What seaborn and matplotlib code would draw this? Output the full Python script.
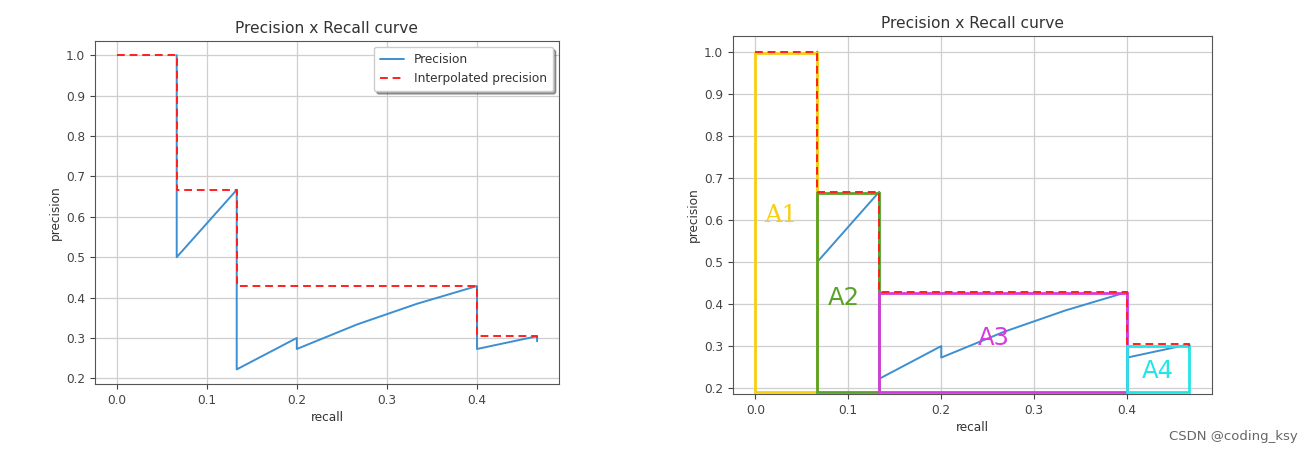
import numpy as np
import pandas as pd
import matplotlib
matplotlib.use("Agg")
import matplotlib.pyplot as plt
import matplotlib.patches as mpatches
import seaborn as sns

# precision / recall points in detection order
recall = [0.0667, 0.0667, 0.1333, 0.1333, 0.1333, 0.1333, 0.1333, 0.1333, 0.1333,
          0.2, 0.2, 0.2667, 0.3333, 0.4, 0.4, 0.4, 0.4, 0.4, 0.4, 0.4, 0.4, 0.4,
          0.4667, 0.4667]
precision = [1.0, 0.5, 0.6667, 0.5, 0.4, 0.3333, 0.2857, 0.25, 0.2222,
             0.3, 0.2727, 0.3333, 0.3846, 0.4286, 0.4, 0.375, 0.3529, 0.3333, 0.3158,
             0.3, 0.2857, 0.2727, 0.3043, 0.2917]

# interpolated (every point) precision
interp_recall = [0.0, 0.0667, 0.0667, 0.1333, 0.1333, 0.4, 0.4, 0.4667, 0.4667]
interp_precision = [1.0, 1.0, 0.6667, 0.6667, 0.4286, 0.4286, 0.3043, 0.3043, 0.2917]

# areas under interpolated curve
area_names = ["A1", "A2", "A3", "A4"]
area_start = [0.0, 0.0667, 0.1333, 0.4]
area_end = [0.0667, 0.1333, 0.4, 0.4667]
area_height = [1.0, 0.6667, 0.4286, 0.3043]
area_colors = ["#f7cf10", "#58a22a", "#d63ae0", "#22e6e6"]
label_pos = [(0.027, 0.61), (0.095, 0.414), (0.257, 0.319), (0.433, 0.24)]
label_fonts = ["DejaVu Serif", "DejaVu Sans", "DejaVu Sans", "DejaVu Sans"]

sns.set_style("ticks", {"axes.grid": True, "grid.color": "#cfcfcf",
                        "axes.edgecolor": "#555555", "xtick.color": "#444444",
                        "ytick.color": "#444444", "text.color": "#333333",
                        "axes.labelcolor": "#333333"})
plt.rcParams["font.family"] = ["DejaVu Sans"]
plt.rcParams["xtick.labelsize"] = 8.7
plt.rcParams["ytick.labelsize"] = 8.7
plt.rcParams["axes.labelsize"] = 8.7
plt.rcParams["axes.titlesize"] = 11.2
plt.rcParams["grid.linewidth"] = 0.9

pr = pd.DataFrame({"recall": recall, "precision": precision})
ip = pd.DataFrame({"recall": interp_recall, "precision": interp_precision})

fig = plt.figure(figsize=(13.14, 4.55), dpi=100)
ax1 = fig.add_axes([0.0723, 0.156, 0.3531, 0.7538])
ax2 = fig.add_axes([0.5578, 0.134, 0.3645, 0.7868])

blue = "#3d8fd1"

for ax in (ax1, ax2):
    sns.lineplot(data=pr, x="recall", y="precision", sort=False, estimator=None,
                 color=blue, lw=1.4, ax=ax, label="Precision", zorder=2)
    sns.lineplot(data=ip, x="recall", y="precision", sort=False, estimator=None,
                 color="#ff1f1f", lw=1.4, linestyle=(0, (4, 2.5)), ax=ax,
                 label="Interpolated precision", zorder=4)
    ax.set_title("Precision x Recall curve", pad=6)
    ax.set_xlabel("recall", labelpad=3)
    ax.set_ylabel("precision", labelpad=3)
    ax.set_xticks([0.0, 0.1, 0.2, 0.3, 0.4])
    ax.set_yticks(np.arange(0.2, 1.01, 0.1))
    ax.set_xlim(-0.024, 0.491)

ax1.set_ylim(0.186, 1.035)
ax2.set_ylim(0.186, 1.037)

ax1.legend(loc="upper right", shadow=True, fontsize=8.7, framealpha=1,
           fancybox=True, borderpad=0.5)
ax2.get_legend().remove()

bottom = 0.19
for name, x0, x1, h, c, (lx, ly), fnt in zip(area_names, area_start, area_end,
                                            area_height, area_colors, label_pos, label_fonts):
    ax2.add_patch(mpatches.Rectangle((x0, bottom), x1 - x0, h - bottom - 0.003,
                                     fill=False, edgecolor=c, lw=2.0, zorder=3))
    ax2.text(lx, ly, name, color=c, fontsize=17.5, ha="center", va="center",
             family=fnt, zorder=5)

fig.text(0.988, 0.04, "CSDN @coding_ksy", ha="right", va="center",
         fontsize=9.5, color="#666666")

fig.savefig("out.png", dpi=100, facecolor="white")
